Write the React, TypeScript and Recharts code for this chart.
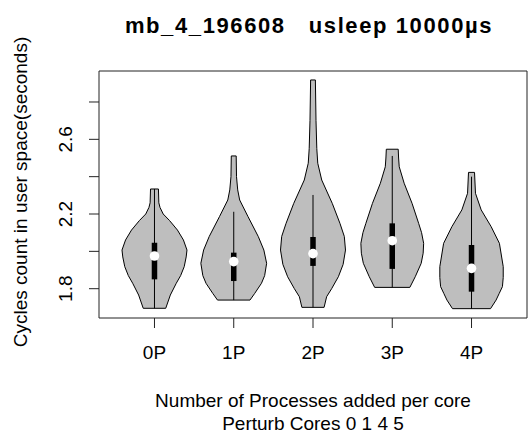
import React from "react";
import { ComposedChart, Scatter, XAxis, YAxis, ReferenceArea } from "recharts";

const categories = ["0P", "1P", "2P", "3P", "4P"];

// violin outlines, bottom to top: [value, half width in x units]
const violin0P = [
  [1.695, 0.142], [1.766, 0.2], [1.829, 0.275], [1.87, 0.33], [1.918, 0.375], [1.97, 0.4],
  [2.007, 0.41], [2.061, 0.365], [2.114, 0.29], [2.165, 0.19], [2.2, 0.11], [2.235, 0.07],
  [2.26, 0.055], [2.334, 0.05],
];
const violin1P = [
  [1.739, 0.205], [1.775, 0.265], [1.829, 0.35], [1.87, 0.39], [1.936, 0.415], [2.007, 0.38],
  [2.079, 0.31], [2.186, 0.18], [2.275, 0.075], [2.329, 0.05], [2.4, 0.035], [2.511, 0.031],
];
const violin2P = [
  [1.7, 0.14], [1.757, 0.172], [1.8, 0.235], [1.864, 0.32], [1.93, 0.38], [2.007, 0.41],
  [2.08, 0.395], [2.15, 0.34], [2.257, 0.243], [2.382, 0.11], [2.472, 0.06], [2.55, 0.048],
  [2.7, 0.038], [2.918, 0.03],
];
const violin3P = [
  [1.807, 0.222], [1.864, 0.29], [1.936, 0.365], [1.99, 0.39], [2.043, 0.396], [2.1, 0.37],
  [2.15, 0.333], [2.257, 0.25], [2.365, 0.15], [2.453, 0.088], [2.5, 0.08], [2.547, 0.075],
];
const violin4P = [
  [1.693, 0.24], [1.739, 0.31], [1.775, 0.35], [1.811, 0.39], [1.86, 0.4], [1.918, 0.4],
  [2.043, 0.352], [2.132, 0.248], [2.222, 0.122], [2.311, 0.05], [2.423, 0.038],
];
const violins = [violin0P, violin1P, violin2P, violin3P, violin4P];

const whiskerLow = [1.695, 1.739, 1.7, 1.807, 1.693];
const whiskerHigh = [2.334, 2.212, 2.302, 2.511, 2.4];
const q1 = [1.85, 1.841, 1.922, 1.906, 1.784];
const q3 = [2.046, 1.993, 2.077, 2.15, 2.034];
const medians = [1.975, 1.945, 1.988, 2.057, 1.909];

const yTicks = [1.8, 2.0, 2.2, 2.4, 2.6, 2.8];
const yLabels = ["1.8", "", "2.2", "", "2.6", ""];
const xDomain = [0.3, 5.7];
const yDomain = [1.643, 2.966];

const font = "'Liberation Sans', Arial, Helvetica, sans-serif";

const outline = (i: number, pts: number[][]) => {
  const right = pts.map(([v, w]) => ({ x: i + 1 + w, y: v }));
  const left = pts.slice().reverse().map(([v, w]) => ({ x: i + 1 - w, y: v }));
  return [...right, ...left];
};

const noDot = () => <g />;

const XTick = (props: any) => {
  const { x, y, payload } = props;
  return (
    <text x={x} y={y + 29} textAnchor="middle" fontSize={19} fontFamily={font} fill="#000">
      {categories[payload.value - 1]}
    </text>
  );
};

const YTick = (props: any) => {
  const { x, y, payload } = props;
  const idx = yTicks.findIndex((t) => Math.abs(t - payload.value) < 1e-6);
  const bx = x - 14.5;
  return (
    <text x={bx} y={y} transform={`rotate(-90, ${bx}, ${y})`} textAnchor="middle" fontSize={19} fontFamily={font} fill="#000">
      {idx >= 0 ? yLabels[idx] : ""}
    </text>
  );
};

const App = () => {
  return (
    <div style={{ position: "absolute", left: 0, top: 0, width: 529, height: 432, background: "#fff" }}>
      <ComposedChart width={529} height={432} margin={{ top: 71, right: 2, bottom: 84, left: 59 }}>
        <XAxis type="number" dataKey="x" domain={xDomain} allowDataOverflow ticks={[1, 2, 3, 4, 5]}
          height={30} tickSize={10} tickMargin={2} axisLine={false} tickLine={{ stroke: "#222" }} tick={<XTick />} interval={0} />
        <YAxis type="number" dataKey="y" domain={yDomain} allowDataOverflow ticks={yTicks}
          width={40} tickSize={10} tickMargin={2} axisLine={false} tickLine={{ stroke: "#222" }} tick={<YTick />} interval={0} />
        {violins.map((pts, i) => (
          <Scatter key={"v" + i} data={outline(i, pts)} shape={noDot} isAnimationActive={false}
            line={{ stroke: "#000", strokeWidth: 1, fill: "#bebebe" }} lineJointType="linearClosed" />
        ))}
        {categories.map((c, i) => (
          <Scatter key={"w" + c} data={[{ x: i + 1, y: whiskerLow[i] }, { x: i + 1, y: whiskerHigh[i] }]}
            shape={noDot} isAnimationActive={false} line={{ stroke: "#000", strokeWidth: 1 }} />
        ))}
        {categories.map((c, i) => (
          <Scatter key={"b" + c} data={[{ x: i + 1, y: q1[i] }, { x: i + 1, y: q3[i] }]}
            shape={noDot} isAnimationActive={false} line={{ stroke: "#000", strokeWidth: 5.5 }} />
        ))}
        <Scatter data={medians.map((m, i) => ({ x: i + 1, y: m }))} isAnimationActive={false}
          shape={(p: any) => <circle cx={p.cx} cy={p.cy} r={4.8} fill="#fff" />} />
        <ReferenceArea x1={xDomain[0]} x2={xDomain[1]} y1={yDomain[0]} y2={yDomain[1]}
          fill="none" fillOpacity={0} stroke="#222" strokeWidth={1} ifOverflow="visible" />
      </ComposedChart>
      <svg width={529} height={432} style={{ position: "absolute", left: 0, top: 0, pointerEvents: "none" }}>
        <text x={309} y={33} textAnchor="middle" fontSize={22} fontWeight="bold" fontFamily={font}
          letterSpacing={1.6} style={{ whiteSpace: "pre" }}>
          {"mb_4_196608   usleep 10000µs"}
        </text>
        <text x={313} y={406.5} textAnchor="middle" fontSize={19} fontFamily={font}>
          Number of Processes added per core
        </text>
        <text x={313} y={429.5} textAnchor="middle" fontSize={19} fontFamily={font}>
          Perturb Cores 0 1 4 5
        </text>
        <text x={27} y={192} transform="rotate(-90, 27, 192)" textAnchor="middle" fontSize={19} fontFamily={font}>
          Cycles count in user space(seconds)
        </text>
      </svg>
    </div>
  );
};

export default App;
